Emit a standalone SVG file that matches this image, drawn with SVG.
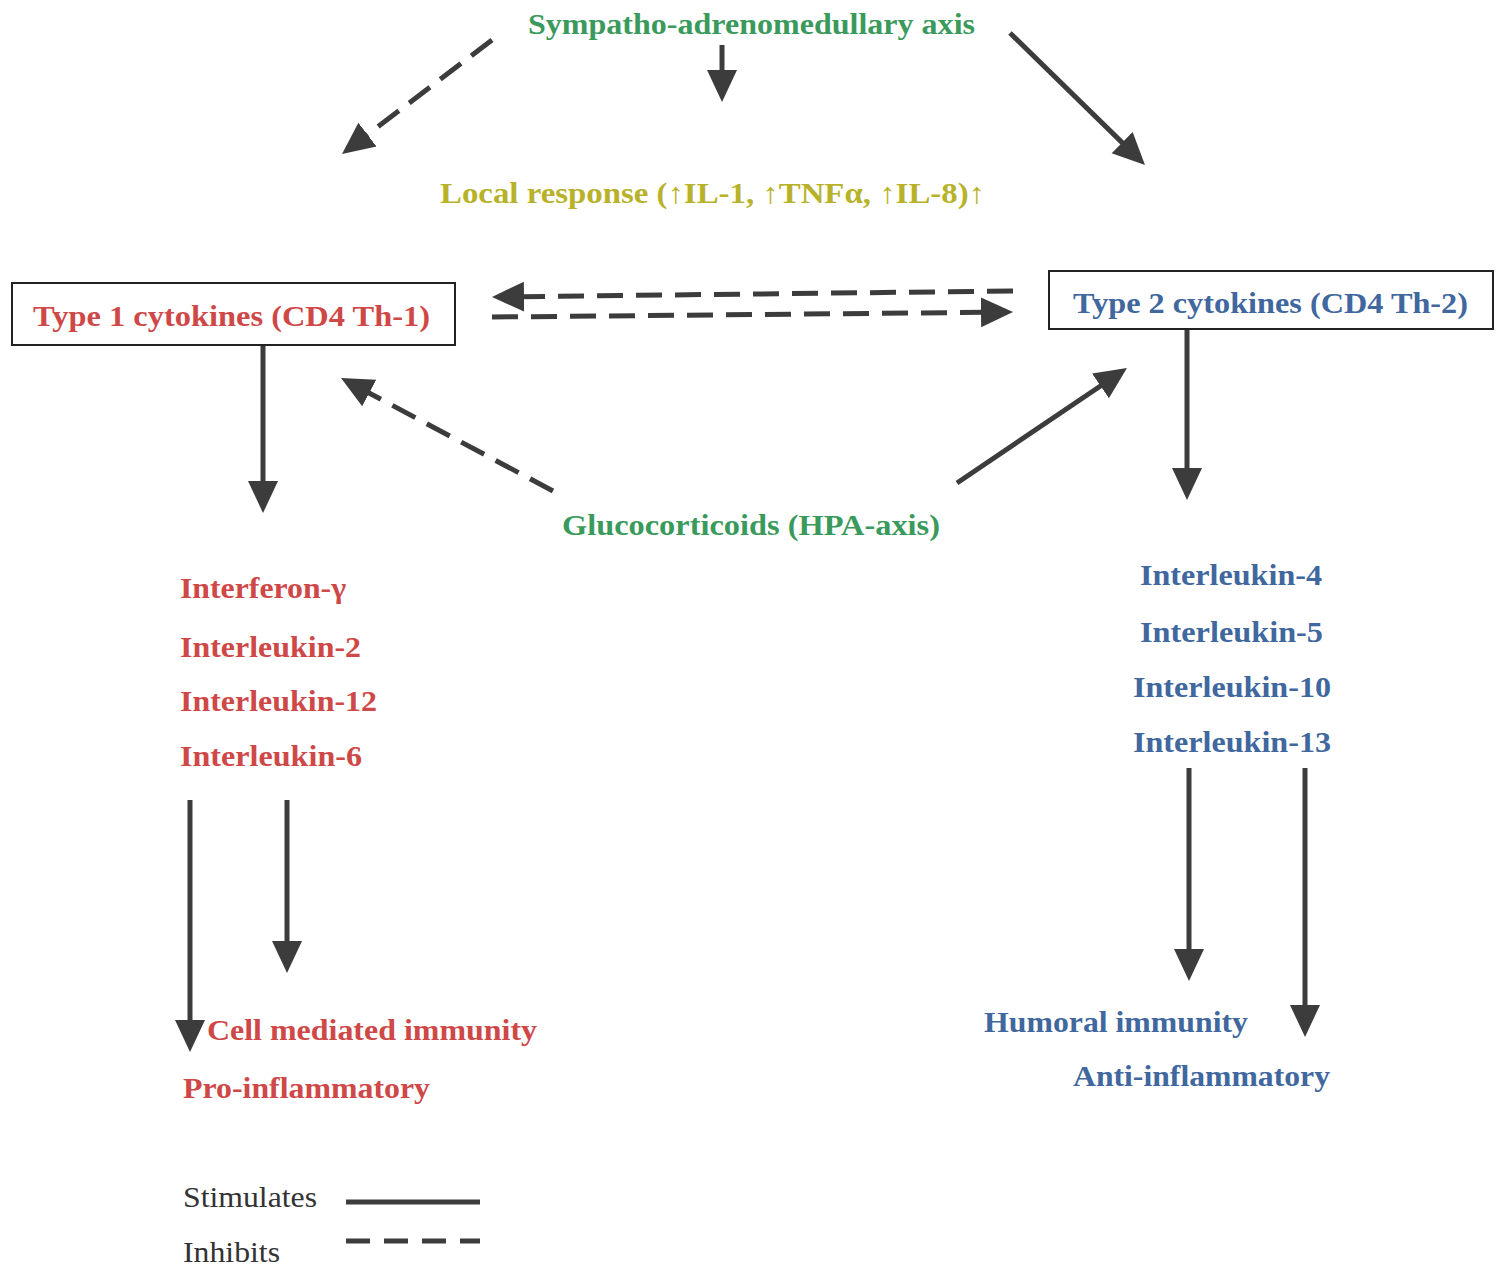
<svg xmlns="http://www.w3.org/2000/svg" width="1501" height="1266" viewBox="0 0 1501 1266">
<defs>
<style>
.t{font-family:"Liberation Serif","Times New Roman",serif;font-weight:bold;font-size:29px}
.g{fill:#3a9a5c}
.y{fill:#b8b22a}
.r{fill:#cf4848}
.b{fill:#40679e}
.lg{font-family:"Liberation Serif","Times New Roman",serif;font-size:29px;fill:#333}
.box{fill:#fff;stroke:#222;stroke-width:2}
.s{stroke:#3c3c3c;stroke-width:5;fill:none}
.d{stroke:#3c3c3c;stroke-width:5;fill:none;stroke-dasharray:26 13}
</style>
<marker id="ah" markerUnits="userSpaceOnUse" markerWidth="34" markerHeight="34" viewBox="0 0 34 34" refX="4" refY="17" orient="auto">
<path d="M0,2 L32,17 L0,32 Z" fill="#3c3c3c"/>
</marker>
</defs>
<rect width="1501" height="1266" fill="#fff"/>
<g id="connectors">
<line class="d" x1="492" y1="40" x2="364.3" y2="137.1" marker-end="url(#ah)"/>
<line class="s" x1="722" y1="45" x2="722" y2="74" marker-end="url(#ah)"/>
<line class="s" x1="1010" y1="33" x2="1125" y2="145.4" marker-end="url(#ah)"/>
<line class="d" x1="1013" y1="291" x2="520" y2="296.7" marker-end="url(#ah)"/>
<line class="d" x1="492" y1="317" x2="985" y2="312.3" marker-end="url(#ah)"/>
<line class="s" x1="263" y1="342" x2="263" y2="485" marker-end="url(#ah)"/>
<line class="d" x1="553" y1="491" x2="365.7" y2="391.2" marker-end="url(#ah)"/>
<line class="s" x1="957" y1="483" x2="1103.8" y2="383.7" marker-end="url(#ah)"/>
<line class="s" x1="1187" y1="330" x2="1187" y2="472" marker-end="url(#ah)"/>
<line class="s" x1="190" y1="800" x2="190" y2="1024" marker-end="url(#ah)"/>
<line class="s" x1="287" y1="800" x2="287" y2="945" marker-end="url(#ah)"/>
<line class="s" x1="1189" y1="768" x2="1189" y2="953" marker-end="url(#ah)"/>
<line class="s" x1="1305" y1="768" x2="1305" y2="1009" marker-end="url(#ah)"/>
</g>
<g id="sam"><text class="t g" x="528" y="34" textLength="447" lengthAdjust="spacingAndGlyphs">Sympatho-adrenomedullary axis</text></g>
<g id="local"><text class="t y" x="440" y="203" textLength="545" lengthAdjust="spacingAndGlyphs">Local response (↑IL-1, ↑TNFα, ↑IL-8)↑</text></g>
<g id="type1">
<rect class="box" x="12" y="283" width="443" height="62"/>
<text class="t r" x="33" y="326" textLength="397" lengthAdjust="spacingAndGlyphs">Type 1 cytokines (CD4 Th-1)</text>
</g>
<g id="type2">
<rect class="box" x="1049" y="271" width="444" height="58"/>
<text class="t b" x="1073" y="313" textLength="395" lengthAdjust="spacingAndGlyphs">Type 2 cytokines (CD4 Th-2)</text>
</g>
<g id="gluco"><text class="t g" x="562" y="535" textLength="378" lengthAdjust="spacingAndGlyphs">Glucocorticoids (HPA-axis)</text></g>
<g id="th1list">
<text class="t r" x="180" y="598" textLength="166" lengthAdjust="spacingAndGlyphs">Interferon-γ</text>
<text class="t r" x="180" y="657" textLength="181" lengthAdjust="spacingAndGlyphs">Interleukin-2</text>
<text class="t r" x="180" y="711" textLength="197" lengthAdjust="spacingAndGlyphs">Interleukin-12</text>
<text class="t r" x="180" y="766" textLength="182" lengthAdjust="spacingAndGlyphs">Interleukin-6</text>
</g>
<g id="th2list">
<text class="t b" x="1140" y="585" textLength="182" lengthAdjust="spacingAndGlyphs">Interleukin-4</text>
<text class="t b" x="1140" y="642" textLength="183" lengthAdjust="spacingAndGlyphs">Interleukin-5</text>
<text class="t b" x="1133" y="697" textLength="198" lengthAdjust="spacingAndGlyphs">Interleukin-10</text>
<text class="t b" x="1133" y="752" textLength="198" lengthAdjust="spacingAndGlyphs">Interleukin-13</text>
</g>
<g id="cmi"><text class="t r" x="207" y="1040" textLength="330" lengthAdjust="spacingAndGlyphs">Cell mediated immunity</text></g>
<g id="proinf"><text class="t r" x="183" y="1098" textLength="247" lengthAdjust="spacingAndGlyphs">Pro-inflammatory</text></g>
<g id="humoral"><text class="t b" x="984" y="1032" textLength="264" lengthAdjust="spacingAndGlyphs">Humoral immunity</text></g>
<g id="antiinf"><text class="t b" x="1073" y="1086" textLength="257" lengthAdjust="spacingAndGlyphs">Anti-inflammatory</text></g>
<g id="legend">
<text class="lg" x="183" y="1207" textLength="134" lengthAdjust="spacingAndGlyphs">Stimulates</text>
<line x1="346" y1="1202" x2="480" y2="1202" stroke="#3c3c3c" stroke-width="5"/>
<text class="lg" x="183" y="1262" textLength="97" lengthAdjust="spacingAndGlyphs">Inhibits</text>
<line x1="346" y1="1241" x2="480" y2="1241" stroke="#3c3c3c" stroke-width="5" stroke-dasharray="24 14"/>
</g>
</svg>
